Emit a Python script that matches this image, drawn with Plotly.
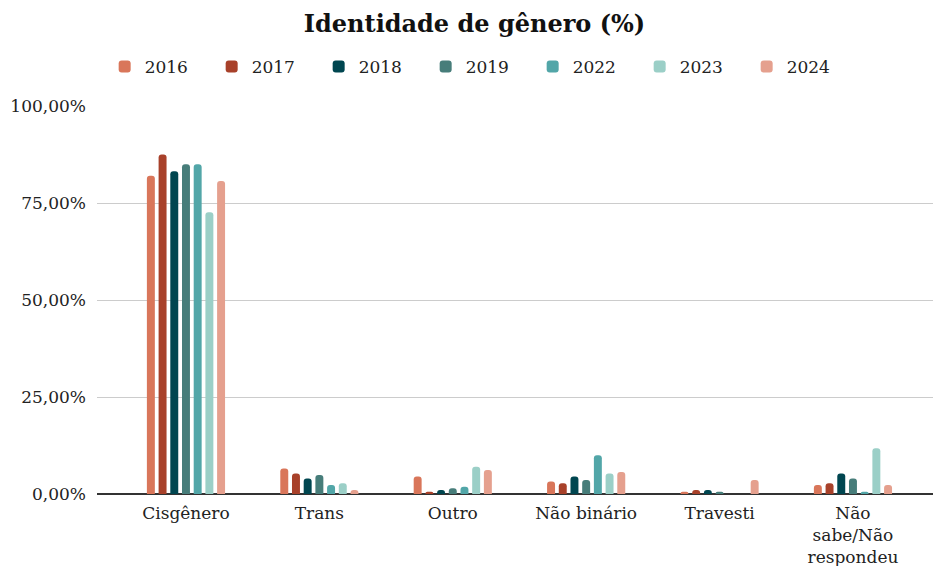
import plotly.graph_objects as go

categories = ["Cisgênero", "Trans", "Outro", "Não binário", "Travesti", "Não<br>sabe/Não<br>respondeu"]
years = ["2016", "2017", "2018", "2019", "2022", "2023", "2024"]

v2016 = [82.0, 6.6, 4.5, 3.2, 0.6, 2.3]
v2017 = [87.5, 5.3, 0.6, 2.8, 1.0, 2.8]
v2018 = [83.2, 4.0, 1.0, 4.5, 1.0, 5.3]
v2019 = [85.0, 4.9, 1.5, 3.6, 0.6, 4.0]
v2022 = [85.0, 2.3, 1.9, 10.0, None, 0.6]
v2023 = [72.6, 2.8, 7.0, 5.3, None, 11.8]
v2024 = [80.7, 1.0, 6.2, 5.7, 3.6, 2.3]

y_ticks = [0, 25, 50, 75, 100]
y_ticktext = ["0,00%", "25,00%", "50,00%", "75,00%", "100,00%"]

series = [v2016, v2017, v2018, v2019, v2022, v2023, v2024]
colors = ["#D9765A", "#A8412A", "#004650", "#477D7A", "#52A6A8", "#9BCFC7", "#E5A08E"]

FONT = "Georgia, 'DejaVu Serif', serif"

# page body has an 8px margin; the figure is sized to fill the rest of the window
W, H = 933, 558

fig = go.Figure()
for y, vals, c in zip(years, series, colors):
    fig.add_trace(go.Bar(x=categories, y=vals, name=y, marker=dict(color=c, line=dict(width=0)),
                         hovertemplate="%{y:.2f}%<extra>" + y + "</extra>"))

fig.update_layout(
    width=W, height=H,
    margin=dict(l=89, r=0, t=98, b=72, autoexpand=False),
    paper_bgcolor="white", plot_bgcolor="white",
    font=dict(family=FONT, size=17, color="#222"),
    title=dict(text="<b>Identidade de gênero (%)</b>", x=0.5, xanchor="center",
               yref="container", y=1 - 16 / H, yanchor="middle",
               font=dict(family=FONT, size=24, color="#111")),
    legend=dict(orientation="h", xref="container", x=0.505, xanchor="center",
                yref="container", y=1 - 59 / H, yanchor="middle",
                font=dict(family=FONT, size=17, color="#222"),
                entrywidth=62, entrywidthmode="pixels", itemsizing="constant"),
    barmode="group", bargap=0.386, bargroupgap=0.32, barcornerradius=4,
    xaxis=dict(range=[-0.667, 5.66], showgrid=False, ticks="", showline=False, automargin=False,
               ticklabelstandoff=7,
               tickfont=dict(family=FONT, size=17, color="#222")),
    yaxis=dict(range=[0, 100], tickvals=y_ticks, ticktext=y_ticktext, automargin=False,
               showgrid=True, gridcolor="#cccccc", gridwidth=1,
               zeroline=True, zerolinecolor="#333333", zerolinewidth=2,
               ticklabelstandoff=10,
               tickfont=dict(family=FONT, size=17, color="#222")),
)

fig.write_html("out.html")
